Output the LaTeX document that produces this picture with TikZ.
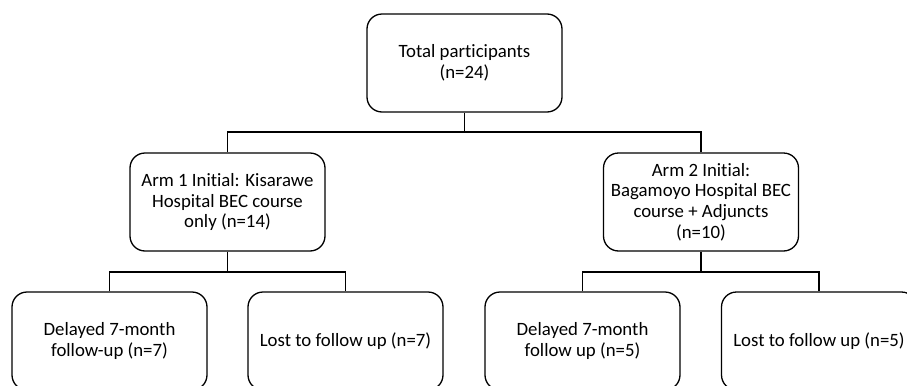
\documentclass[tikz,border=0pt]{standalone}
\usepackage{fontspec}
\setmainfont{Carlito}[Ligatures={NoCommon}]
\begin{document}
\begin{tikzpicture}[x=0.5pt,y=-0.5pt,
  box/.style={draw=black, line width=0.65pt, rounded corners=7.5pt,
    minimum width=97.5pt, minimum height=49pt, inner sep=0pt,
    align=center, font=\fontsize{9.4}{10.4}\selectfont},
  link/.style={draw=black, line width=0.6pt}]
\clip (0,0) rectangle (907,386);
\useasboundingbox (0,0) rectangle (907,386);
\node[box] (top) at (464.5,63) {Total participants\\(n=24)};
\node[box] (arm1) at (227.5,202) {Arm 1 Initial: Kisarawe\\Hospital BEC course\\only (n=14)};
\node[box] (arm2) at (701,202) {Arm 2 Initial:\\Bagamoyo Hospital BEC\\course + Adjuncts\\(n=10)};
\node[box] (b1) at (109.5,341) {Delayed 7-month\\follow-up (n=7)};
\node[box] (b2) at (345.5,341) {Lost to follow up (n=7)};
\node[box] (b3) at (582.5,341) {Delayed 7-month\\follow up (n=5)};
\node[box] (b4) at (819,341) {Lost to follow up (n=5)};
\coordinate (j0) at (464.5,132);
\coordinate (j1) at (227.5,272);
\coordinate (j2) at (701,272);
\draw[link] (top.south) -- (j0);
\draw[link] (arm1.north) |- (j0) -| (arm2.north);
\draw[link] (arm1.south) -- (j1);
\draw[link] (b1.north) |- (j1) -| (b2.north);
\draw[link] (arm2.south) -- (j2);
\draw[link] (b3.north) |- (j2) -| (b4.north);
\end{tikzpicture}
\end{document}
